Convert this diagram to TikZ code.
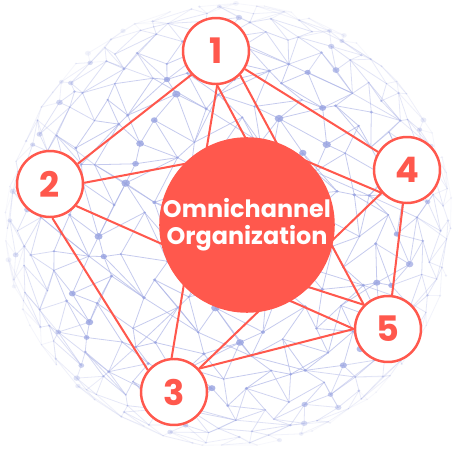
\documentclass[tikz,border=0pt]{standalone}
\usepackage{fontspec}
\setmainfont{Poppins}
\definecolor{coral}{RGB}{255,88,77}
\definecolor{meshline}{RGB}{170,178,230}
\definecolor{meshdot}{RGB}{150,161,224}

\pgfdeclarelayer{mesh}
\pgfdeclarelayer{links}
\pgfsetlayers{mesh,links,main}

% one edge of the globe mesh, drawn only when both ends lie on the globe
\newcommand\meshlink[4]{%
  \ifcsname mr#3_#4\endcsname
    \edef\mshA{\csname mr#1_#2\endcsname}\edef\mshB{\csname mr#3_#4\endcsname}%
    \ifdim\mshA pt<0.985pt\relax\ifdim\mshB pt<0.985pt\relax
      \pgfmathsetmacro\mshOp{0.06+0.62*min(1,(1-max(\mshA,\mshB))/0.45)}%
      \draw[meshline,line width=0.45pt,opacity=\mshOp] (p#1_#2) -- (p#3_#4);%
    \fi\fi
  \fi}

\begin{document}
\begin{tikzpicture}[x=0.02cm,y=-0.02cm,
  link/.style={draw=coral,line width=1.15pt},
  num/.style={circle,draw=coral,line width=1.4pt,fill=white,minimum size=1.32cm,
    inner sep=0pt,text=coral,font=\fontsize{20}{20}\selectfont\bfseries},
  hub/.style={circle,fill=coral,minimum size=3.44cm,inner sep=0pt,text=white,
    align=center,font=\fontsize{13.6}{15.3}\selectfont\bfseries}]

\useasboundingbox (0,0) rectangle (458,450);

% ---- globe mesh: jittered grid projected onto a sphere ----
\begin{pgfonlayer}{mesh}
\fill[white] (0,0) rectangle (458,450);
\foreach \i in {-11,...,11}{
  \foreach \j in {-11,...,11}{
    \pgfmathsetmacro\mshU{(\i+0.42*sin(\i*97+\j*211))/10.6}
    \pgfmathsetmacro\mshV{(\j+0.42*cos(\i*173+\j*59))/10.6}
    \pgfmathsetmacro\mshR{max(sqrt(\mshU*\mshU+\mshV*\mshV),0.001)}
    \pgfmathsetmacro\mshS{(\mshR<1)*sin(\mshR*90)/\mshR+(\mshR>=1)/\mshR}
    \coordinate (p\i_\j) at ({229+224*\mshS*\mshU},{225+222*\mshS*\mshV});
    \expandafter\xdef\csname mr\i_\j\endcsname{\mshR}
  }
}
\foreach \i in {-11,...,11}{
  \foreach \j in {-11,...,11}{
    \pgfmathtruncatemacro\ip{\i+1}
    \pgfmathtruncatemacro\ipp{\i+2}
    \pgfmathtruncatemacro\jp{\j+1}
    \pgfmathtruncatemacro\jm{\j-1}
    \meshlink{\i}{\j}{\ip}{\j}
    \meshlink{\i}{\j}{\i}{\jp}
    \pgfmathtruncatemacro\flip{mod(abs(\i*7+\j*13),3)}
    \ifcase\flip \meshlink{\i}{\j}{\ip}{\jp}\or \meshlink{\i}{\j}{\ip}{\jm}\or\fi
    \pgfmathtruncatemacro\longl{mod(abs(\i*5+\j*11),7)}
    \ifnum\longl=0 \meshlink{\i}{\j}{\ipp}{\jp}\fi
  }
}
\foreach \i in {-11,...,11}{
  \foreach \j in {-11,...,11}{
    \edef\mshR{\csname mr\i_\j\endcsname}
    \ifdim\mshR pt<0.985pt
      \pgfmathsetmacro\mshD{(0.8+0.9*(1+sin(\i*53+\j*131))/2+2.0*(sin(\i*71+\j*29)>0.75))*(1.15-0.5*\mshR)}
      \pgfmathsetmacro\mshOp{0.06+0.72*min(1,(1-\mshR)/0.45)}
      \fill[meshdot,opacity=\mshOp] (p\i_\j) ellipse[x radius=1.2*\mshD,y radius=\mshD];
    \fi
  }
}
\end{pgfonlayer}

% ---- hub and numbered stations ----
\node[hub] (hub) at (247,225) {Omnichannel\\Organization};
\node[num] (n1) at (216,51)  {1};
\node[num] (n2) at (50,184)  {2};
\node[num] (n3) at (174,392) {3};
\node[num] (n4) at (407,170) {4};
\node[num] (n5) at (388,329) {5};

% ends of the links that run in under the hub
\coordinate (h1) at (253,152);
\coordinate (h2) at (200,161);
\coordinate (h4) at (292,155);
\coordinate (h5) at (296,283);

\begin{pgfonlayer}{links}
\draw[link] (n1.-136) -- (n2.36);
\draw[link] (n1.-88) -- (n3.94);
\draw[link] (n1.-88) -- (h1);
\draw[link] (n1.-45) -- (n5.135);
\draw[link] (n1) -- (n4);
\draw[link] (n2.2) -- (h2);
\draw[link] (n2.-86) -- (n3.140);
\draw[link] (n2.-40) -- (n5.180);
\draw[link] (n3.43) -- (n4.-138);
\draw[link] (n3.43) -- (n5.180);
\draw[link] (n4) -- (n5);
\draw[link] (n4.-138) -- (h4);
\draw[link] (n5.135) -- (h5);
\end{pgfonlayer}
\end{tikzpicture}
\end{document}
